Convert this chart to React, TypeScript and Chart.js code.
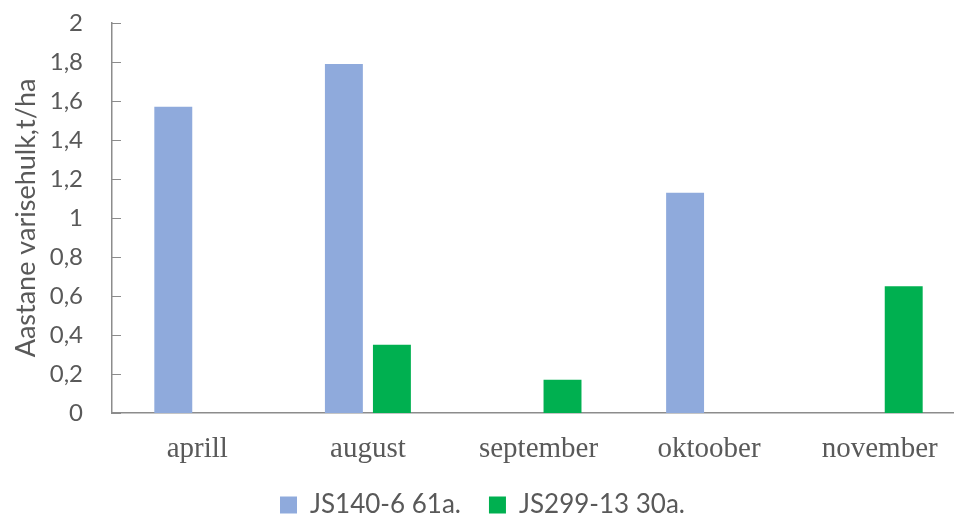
import React, { useEffect, useRef } from "react";
import { Chart, registerables } from "chart.js";

Chart.register(...registerables);

const categories = ["aprill", "august", "september", "oktoober", "november"];
const seriesAName = "JS140-6 61a.";
const seriesBName = "JS299-13 30a.";
const seriesA = [1.57, 1.79, 0, 1.13, 0];
const seriesB = [0, 0.35, 0.17, 0, 0.65];
const yTitle = "Aastane varisehulk,t/ha";

const W = 970;
const H = 528;

const innerTicks = {
  id: "innerTicks",
  afterDatasetsDraw(chart: any) {
    const y = chart.scales.y;
    const ctx = chart.ctx;
    ctx.save();
    ctx.strokeStyle = "#8c8c8c";
    ctx.lineWidth = 1;
    y.ticks.forEach((t: any) => {
      const py = Math.round(y.getPixelForValue(t.value)) + 0.5;
      ctx.beginPath();
      ctx.moveTo(y.right, py);
      ctx.lineTo(y.right + 9, py);
      ctx.stroke();
    });
    ctx.restore();
  },
};

export default function App() {
  const ref = useRef<HTMLCanvasElement>(null);
  useEffect(() => {
    document.body.style.margin = "0";
    document.body.style.overflow = "hidden";
    document.documentElement.style.overflow = "hidden";
    const chart = new Chart(ref.current!, {
      type: "bar",
      data: {
        labels: categories,
        datasets: [
          { label: seriesAName, data: seriesA, backgroundColor: "#8FAADC", borderWidth: 0 },
          { label: seriesBName, data: seriesB, backgroundColor: "#00B050", borderWidth: 0 },
        ],
      },
      options: {
        responsive: false,
        animation: false,
        datasets: { bar: { categoryPercentage: 0.563, barPercentage: 0.79 } },
        layout: { padding: { top: 23, right: 5, left: 0, bottom: 0 } },
        plugins: {
          tooltip: { enabled: false },
          legend: {
            position: "bottom",
            labels: {
              font: { family: "Lato", size: 26 },
              color: "#595959",
              boxWidth: 17,
              boxHeight: 17,
              padding: 28,
            },
          },
        },
        scales: {
          x: {
            grid: { display: false, drawTicks: false },
            border: { display: true, color: "#8c8c8c", width: 1.5 },
            ticks: {
              font: { family: "Liberation Serif", size: 29 },
              color: "#595959",
              padding: 19,
              maxRotation: 0,
            },
            afterFit: (s: any) => {
              s.height = 51;
            },
          },
          y: {
            min: 0,
            max: 2,
            grid: { display: false, drawTicks: false },
            border: { display: true, color: "#8c8c8c", width: 1.5 },
            ticks: {
              stepSize: 0.2,
              font: { family: "Lato", size: 24 },
              color: "#595959",
              padding: 29,
              callback: (v: any) => String(Math.round(Number(v) * 10) / 10).replace(".", ","),
            },
            title: {
              display: true,
              text: yTitle,
              font: { family: "Lato", size: 27 },
              color: "#595959",
              padding: { top: 10, bottom: 0 },
            },
            afterFit: (s: any) => {
              s.width = 112;
              s.paddingTop = 0;
              s.paddingBottom = 0;
            },
          },
        },
      },
      plugins: [innerTicks],
    });
    return () => chart.destroy();
  }, []);
  return (
    <div style={{ width: W, height: H }}>
      <canvas ref={ref} width={W} height={H} style={{ width: W, height: H, display: "block" }} />
    </div>
  );
}
